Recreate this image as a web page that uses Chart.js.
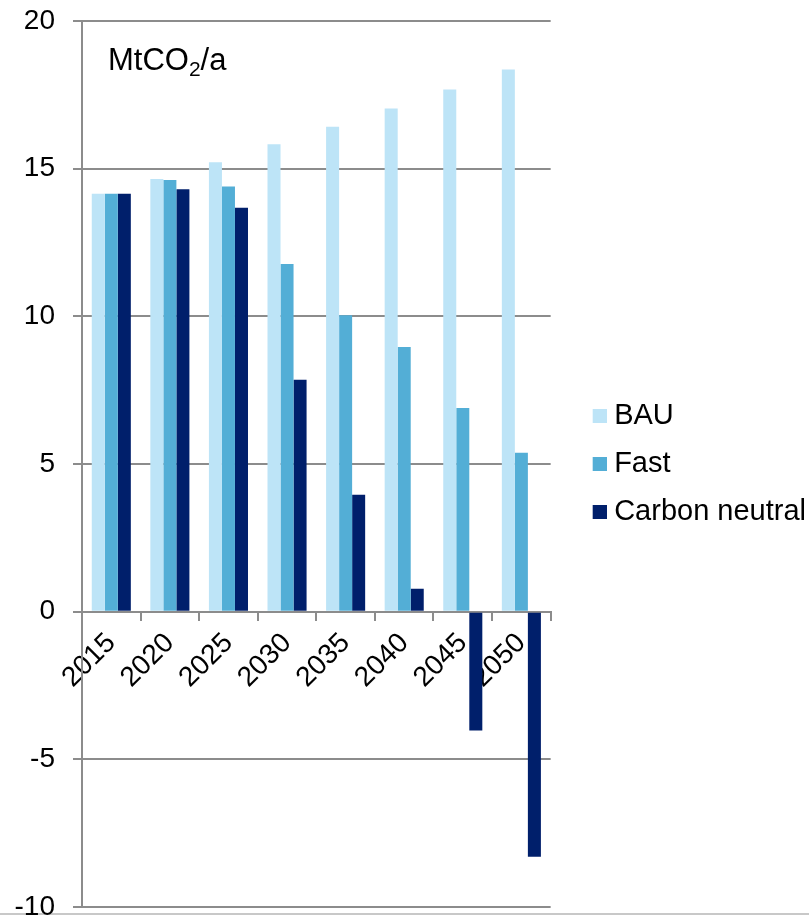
<!DOCTYPE html>
<html>
<head>
<meta charset="utf-8">
<script src="https://cdn.jsdelivr.net/npm/chart.js@4"></script>
<style>
  html, body { margin: 0; padding: 0; background: #fff; }
  #wrap { position: relative; width: 809px; height: 917px; }
  #linha { position: absolute; left: 0; top: 913px; width: 809px; height: 2px; background: #c8c8c8; }
  #grafico { position: relative; }
</style>
</head>
<body>
<div id="wrap"><div id="linha"></div><canvas id="grafico"></canvas></div>
<script>
const anos = ['2015', '2020', '2025', '2030', '2035', '2040', '2045', '2050'];
const bau = [14.15, 14.65, 15.22, 15.83, 16.42, 17.04, 17.68, 18.36];
const fast = [14.15, 14.62, 14.4, 11.77, 10.04, 8.96, 6.9, 5.38];
const carbonNeutral = [14.15, 14.3, 13.68, 7.85, 3.96, 0.78, -4.02, -8.3];

const fonte = 'Liberation Sans, Arial, sans-serif';
const cinza = '#8c8c8c';
const cores = ['#bde4f7', '#53aed6', '#001f6b'];

// quadradinho da legenda: imagem de 28px com o quadrado na metade direita,
// assim o texto fica mais perto do quadrado
function quadrado(cor) {
    const c = document.createElement('canvas');
    c.width = 28;
    c.height = 14;
    const g = c.getContext('2d');
    g.fillStyle = cor;
    g.fillRect(14, 0, 14, 14);
    return c;
}
const simbolos = cores.map(quadrado);

// unidade no canto superior esquerdo, com o "2" subscrito
const unidade = {
    id: 'unidade',
    afterDraw(chart) {
        const ctx = chart.ctx;
        const x = chart.chartArea.left + 26;
        const y = chart.chartArea.top + 49;
        ctx.save();
        ctx.fillStyle = '#000';
        ctx.textBaseline = 'alphabetic';
        ctx.font = '31px ' + fonte;
        ctx.fillText('MtCO', x, y);
        let w = ctx.measureText('MtCO').width;
        ctx.font = '21px ' + fonte;
        ctx.fillText('2', x + w, y + 6);
        w += ctx.measureText('2').width;
        ctx.font = '31px ' + fonte;
        ctx.fillText('/a', x + w, y);
        ctx.restore();
    }
};

const ctx = document.getElementById('grafico').getContext('2d');
new Chart(ctx, {
    type: 'bar',
    data: {
        labels: anos,
        datasets: [
            { label: 'BAU', data: bau, backgroundColor: cores[0] },
            { label: 'Fast', data: fast, backgroundColor: cores[1] },
            { label: 'Carbon neutral', data: carbonNeutral, backgroundColor: cores[2] }
        ]
    },
    options: {
        responsive: true,
        maintainAspectRatio: false,
        animation: false,
        categoryPercentage: 0.667,
        barPercentage: 1,
        layout: { padding: { left: 15, top: 21, right: -7, bottom: 10 } },
        plugins: {
            tooltip: { enabled: false },
            legend: {
                position: 'right',
                maxWidth: 300,
                labels: {
                    usePointStyle: true,
                    pointStyleWidth: 14,
                    boxHeight: 14,
                    padding: 19,
                    color: '#000',
                    font: { family: fonte, size: 29 },
                    generateLabels(chart) {
                        const itens = Chart.defaults.plugins.legend.labels.generateLabels(chart);
                        itens.forEach((item, i) => { item.pointStyle = simbolos[i]; });
                        return itens;
                    }
                }
            }
        },
        scales: {
            x: {
                position: { y: 0 },
                z: 1,
                grid: {
                    offset: true,
                    drawOnChartArea: false,
                    drawTicks: true,
                    tickLength: 8,
                    color: cinza,
                    lineWidth: 2
                },
                border: { color: cinza, width: 2 },
                ticks: {
                    minRotation: 45,
                    maxRotation: 45,
                    padding: 7,
                    color: '#000',
                    font: { family: fonte, size: 28 }
                },
                afterFit(scale) {
                    scale.paddingLeft = 0;
                    scale.paddingRight = 0;
                    scale.paddingTop = 0;
                    scale.paddingBottom = 0;
                }
            },
            y: {
                min: -10,
                max: 20,
                ticks: {
                    stepSize: 5,
                    padding: 18,
                    color: '#000',
                    font: { family: fonte, size: 28 }
                },
                grid: { color: cinza, lineWidth: 2, tickLength: 9 },
                border: { color: cinza, width: 2 },
                afterFit(scale) {
                    scale.width = 67;
                    scale.paddingTop = 0;
                    scale.paddingBottom = 0;
                }
            },
            // eixo vazio só para dar espaço entre o gráfico e a legenda
            espaco: {
                position: 'right',
                grid: { display: false },
                border: { display: false },
                ticks: { display: false },
                afterFit(scale) {
                    scale.width = 16;
                    scale.paddingTop = 0;
                    scale.paddingBottom = 0;
                }
            }
        }
    },
    plugins: [unidade]
});
</script>
</body>
</html>
